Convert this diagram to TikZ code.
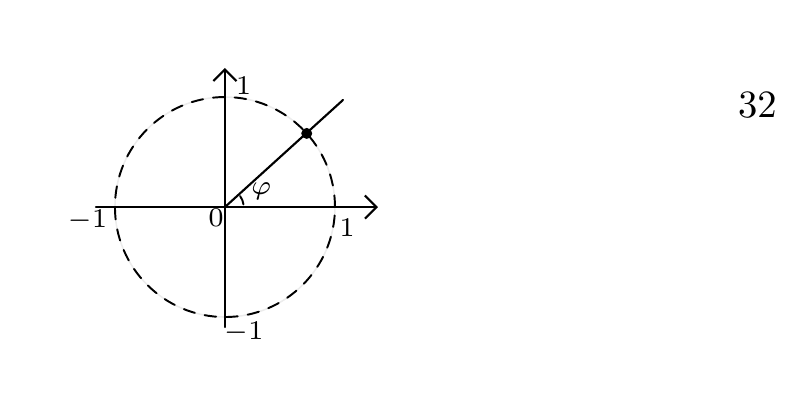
\documentclass[tikz,border=0pt]{standalone}
\usetikzlibrary{arrows.meta}
\tikzset{unitcircle/.style={
  >={Straight Barb[length=3pt,width=6pt]},line join=round,line cap=round
}}

\begin{document}
\begin{tikzpicture}[unitcircle]
  \useasboundingbox (-2.045,-1.927) rectangle (5.336,1.882);
  \coordinate (O) at (0,0);
  \coordinate (W) at (-1.173,0);
  \coordinate (E) at (1.391,0);
  \coordinate (S) at (0,-1.091);
  \coordinate (N) at (0,1.264);
  \coordinate (R) at (1.073,0.973);
  \coordinate (M) at (42:1);
  \draw[gray!15,line width=0.4pt] (O) circle (1);
  \draw[dash pattern=on 3pt off 2.6pt,line width=0.5pt] (O) circle (1);
  \draw[->,line width=0.55pt] (W)--(E);
  \draw[->,line width=0.55pt] (S)--(N);
  \draw[line width=0.55pt] (O)--(R);
  \draw[line width=0.5pt] (8:0.17) arc (8:36:0.17);
  \fill (M) circle (0.05);
  \node (n1) at (0.17,1.1) {\scriptsize $1$};
  \node (e1) at (1.11,-0.19) {\scriptsize $1$};
  \node (w1) at (-1.25,-0.12) {\scriptsize $-1$};
  \node (s1) at (0.17,-1.14) {\scriptsize $-1$};
  \node (o) at (-0.08,-0.1) {\scriptsize $0$};
  \node (phi) at (0.33,0.14) {\scriptsize $\varphi$};
  \node (num) at (4.84,0.93) {$32$};
\end{tikzpicture}
\end{document}
